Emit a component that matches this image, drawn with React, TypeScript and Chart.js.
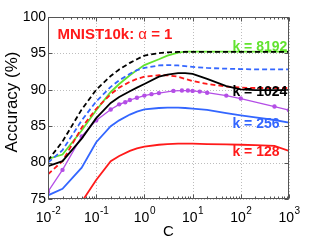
import React, { useEffect, useRef } from 'react';
import { Chart, registerables } from 'chart.js';

Chart.register(...registerables);

// ---- data ----
const C_GRID = [0.01, 0.02, 0.05, 0.1, 0.2, 0.3, 0.5, 0.7, 1, 2, 3, 5, 7, 10, 20, 50, 100, 200, 500, 1000];

const ACC_K8192_DASHED = [80.3, 82.9, 87.3, 90.0, 91.9, 92.8, 93.7, 94.2, 94.7, 95.05, 95.15, 95.2, 95.2, 95.2, 95.2, 95.2, 95.2, 95.2, 95.2, 95.2];
const ACC_K8192 = [80.5, 81.1, 84.4, 87.2, 89.7, 90.8, 92.0, 92.7, 93.4, 94.2, 94.7, 95.1, 95.25, 95.25, 95.25, 95.25, 95.25, 95.25, 95.25, 95.25];
const ACC_BLUE_DASHED = [80.0, 81.7, 85.8, 88.4, 90.4, 91.3, 92.2, 92.7, 93.0, 93.35, 93.4, 93.35, 93.25, 93.15, 93.0, 92.9, 92.85, 92.8, 92.8, 92.8];
const ACC_RED_DASHED = [78.4, 80.2, 84.8, 87.4, 89.4, 90.3, 91.1, 91.5, 91.8, 92.0, 92.0, 91.8, 91.5, 91.2, 90.8, 90.45, 90.3, 90.25, 90.25, 90.25];
const ACC_K1024 = [79.5, 80.2, 83.3, 86.1, 88.2, 89.0, 89.8, 90.3, 90.8, 91.8, 92.1, 92.3, 92.3, 92.2, 91.5, 90.5, 90.05, 89.95, 89.95, 89.95];
const ACC_K256 = [75.5, 76.4, 79.3, 82.8, 85.0, 85.8, 86.6, 87.0, 87.3, 87.5, 87.55, 87.55, 87.5, 87.4, 87.25, 86.8, 86.5, 86.2, 85.85, 85.5];
const ACC_K128 = [70.5, 72.3, 74.6, 77.6, 80.2, 80.9, 81.6, 81.95, 82.2, 82.45, 82.55, 82.6, 82.6, 82.6, 82.55, 82.5, 82.45, 82.4, 82.3, 81.6];

const C_PURPLE = [0.01, 0.02, 0.05, 0.1, 0.2, 0.3, 0.4, 0.5, 0.7, 1, 1.4, 2, 4, 6, 8, 10, 14, 20, 50, 100, 500, 1000];
const ACC_PURPLE = [76.0, 79.0, 83.6, 85.8, 87.3, 88.0, 88.3, 88.6, 88.9, 89.2, 89.4, 89.55, 89.85, 89.9, 89.9, 89.85, 89.75, 89.6, 89.2, 88.8, 87.7, 87.2];

const Y_TICKS = [75, 80, 85, 90, 95, 100];
const X_EXPONENTS = [-2, -1, 0, 1, 2, 3];

const TITLE_PARTS = [
  { text: 'MNIST10k: ', bold: true },
  { text: 'α', bold: false },
  { text: ' = 1', bold: true },
];
const TITLE_POS = { c: 0.0157, acc: 97.0 };

const SERIES_LABELS = [
  { text: 'k = 8192', c: 67, acc: 95.35, color: '#62e32f' },
  { text: 'k = 1024', c: 67, acc: 89.2, color: '#000000' },
  { text: 'k = 256', c: 67, acc: 84.7, color: '#3366ff' },
  { text: 'k = 128', c: 67, acc: 80.94, color: '#ff1a1a' },
];

const X_TITLE = 'C';
const Y_TITLE = 'Accuracy (%)';

const FONT = '"Liberation Sans", Arial, Helvetica, sans-serif';

const GREEN = '#62e32f';
const BLUE = '#3366ff';
const RED = '#ff1a1a';
const PURPLE = '#b44ee6';
const BLACK = '#000000';

const pts = (xs: number[], ys: number[]) => xs.map((x, i) => ({ x, y: ys[i] }));

const decor = {
  id: 'decor',
  beforeDatasetsDraw(chart: any) {
    const { ctx, chartArea: a, scales } = chart;
    const x = scales.x, y = scales.y;
    ctx.save();
    ctx.strokeStyle = '#bdbdbd';
    ctx.lineWidth = 1;
    ctx.setLineDash([1, 2]);
    for (const e of X_EXPONENTS) {
      const px = Math.round(x.getPixelForValue(Math.pow(10, e))) + 0.5;
      ctx.beginPath(); ctx.moveTo(px, a.top); ctx.lineTo(px, a.bottom); ctx.stroke();
    }
    for (const v of Y_TICKS) {
      const py = Math.round(y.getPixelForValue(v)) + 0.5;
      ctx.beginPath(); ctx.moveTo(a.left, py); ctx.lineTo(a.right, py); ctx.stroke();
    }
    ctx.restore();
  },
  afterDatasetsDraw(chart: any) {
    const { ctx, chartArea: a, scales } = chart;
    const x = scales.x, y = scales.y;
    ctx.save();
    ctx.strokeStyle = '#555555';
    ctx.lineWidth = 1;
    const L = Math.round(a.left) + 0.5, R = Math.round(a.right) - 0.5;
    const T = Math.round(a.top) + 0.5, B = Math.round(a.bottom) - 0.5;
    ctx.strokeRect(L, T, R - L, B - T);
    ctx.beginPath();
    for (const e of X_EXPONENTS) {
      const px = Math.round(x.getPixelForValue(Math.pow(10, e))) + 0.5;
      ctx.moveTo(px, B); ctx.lineTo(px, B - 4);
      ctx.moveTo(px, T); ctx.lineTo(px, T + 4);
      if (e < 3) {
        for (let m = 2; m <= 9; m++) {
          const mx = Math.round(x.getPixelForValue(m * Math.pow(10, e))) + 0.5;
          ctx.moveTo(mx, B); ctx.lineTo(mx, B - 2);
          ctx.moveTo(mx, T); ctx.lineTo(mx, T + 2);
        }
      }
    }
    for (const v of Y_TICKS) {
      const py = Math.round(y.getPixelForValue(v)) + 0.5;
      ctx.moveTo(L, py); ctx.lineTo(L + 4, py);
      ctx.moveTo(R, py); ctx.lineTo(R - 4, py);
    }
    ctx.stroke();
    ctx.restore();
  },
  afterDraw(chart: any) {
    const { ctx, chartArea: a, scales } = chart;
    const x = scales.x, y = scales.y;
    ctx.save();
    ctx.fillStyle = '#000';
    ctx.textBaseline = 'alphabetic';
    for (const e of X_EXPONENTS) {
      const px = x.getPixelForValue(Math.pow(10, e));
      const base = '10';
      const exp = String(e);
      ctx.font = `14px ${FONT}`;
      const wb = ctx.measureText(base).width;
      ctx.font = `10px ${FONT}`;
      const we = ctx.measureText(exp).width;
      const start = px - (wb + we) / 2;
      ctx.font = `14px ${FONT}`;
      ctx.textAlign = 'left';
      ctx.fillText(base, start, a.bottom + 23);
      ctx.font = `10px ${FONT}`;
      ctx.fillText(exp, start + wb + 0.5, a.bottom + 15);
    }
    ctx.font = `15px ${FONT}`;
    ctx.textAlign = 'center';
    ctx.fillText(X_TITLE, (a.left + a.right) / 2, a.bottom + 37);
    ctx.save();
    ctx.translate(12, (a.top + a.bottom) / 2 - 6);
    ctx.rotate(-Math.PI / 2);
    ctx.textAlign = 'center';
    ctx.textBaseline = 'middle';
    ctx.font = `17px ${FONT}`;
    ctx.fillText(Y_TITLE, 0, 0);
    ctx.restore();
    let tx = x.getPixelForValue(TITLE_POS.c);
    const ty = y.getPixelForValue(TITLE_POS.acc);
    ctx.fillStyle = RED;
    ctx.textAlign = 'left';
    for (const p of TITLE_PARTS) {
      ctx.font = `${p.bold ? 'bold ' : ''}15px ${FONT}`;
      ctx.fillText(p.text, tx, ty);
      tx += ctx.measureText(p.text).width;
    }
    ctx.font = `bold 14px ${FONT}`;
    for (const l of SERIES_LABELS) {
      ctx.fillStyle = l.color;
      ctx.fillText(l.text, x.getPixelForValue(l.c), y.getPixelForValue(l.acc));
    }
    ctx.restore();
  },
};

export default function App() {
  const ref = useRef<HTMLCanvasElement | null>(null);
  useEffect(() => {
    if (!ref.current) return;
    const line = (data: any, color: string, dashed: boolean, extra: any = {}) => ({
      data,
      borderColor: color,
      backgroundColor: color,
      borderWidth: 1.8,
      borderDash: dashed ? [5, 3] : [],
      pointRadius: 0,
      tension: 0,
      fill: false,
      ...extra,
    });
    const chart = new Chart(ref.current, {
      type: 'line',
      data: {
        datasets: [
          line(pts(C_GRID, ACC_K8192_DASHED), BLACK, true),
          line(pts(C_GRID, ACC_K1024), BLACK, false),
          line(pts(C_GRID, ACC_RED_DASHED), RED, true),
          line(pts(C_GRID, ACC_BLUE_DASHED), BLUE, true),
          line(pts(C_GRID, ACC_K8192), GREEN, false),
          line(pts(C_PURPLE, ACC_PURPLE), PURPLE, false, { borderWidth: 1.3, pointRadius: 2.2, pointBorderWidth: 0, pointBackgroundColor: PURPLE }),
          line(pts(C_GRID, ACC_K256), BLUE, false),
          line(pts(C_GRID, ACC_K128), RED, false),
        ],
      },
      options: {
        responsive: false,
        animation: false,
        devicePixelRatio: 1,
        layout: { padding: { left: 0, top: 17, right: 30, bottom: 0 } },
        plugins: { legend: { display: false }, tooltip: { enabled: false } },
        scales: {
          x: {
            type: 'logarithmic',
            min: 0.01,
            max: 1000,
            grid: { display: false, drawTicks: false },
            border: { display: false },
            ticks: { display: false },
            afterFit: (s: any) => { s.height = 41; },
          },
          y: {
            type: 'linear',
            min: 75,
            max: 100,
            grid: { display: false, drawTicks: false },
            border: { display: false },
            ticks: {
              stepSize: 5,
              padding: 2,
              color: '#000',
              font: { family: FONT, size: 14 },
            },
            afterFit: (s: any) => { s.width = 48; },
          },
        },
      } as any,
      plugins: [decor],
    });
    return () => chart.destroy();
  }, []);
  return (
    <div style={{ position: 'fixed', left: 0, top: 0, width: 319, height: 240, background: '#fff' }}>
      <canvas ref={ref} width={319} height={240} style={{ display: 'block' }} />
    </div>
  );
}
